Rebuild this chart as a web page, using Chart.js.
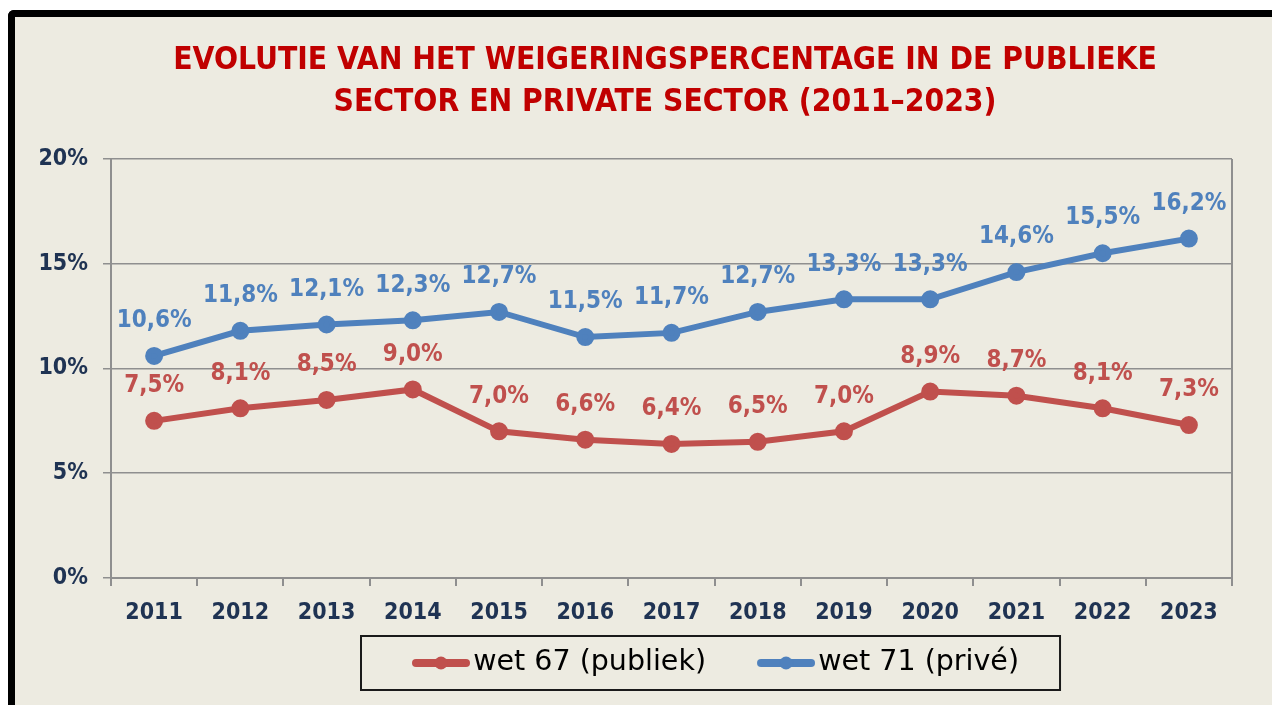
<!DOCTYPE html>
<html>
<head>
<meta charset="utf-8">
<script src="https://cdn.jsdelivr.net/npm/chart.js@4.4.1/dist/chart.umd.min.js"></script>
<style>
  html, body { margin: 0; padding: 0; background: #fff; overflow: hidden; }
  .frame {
    position: absolute; left: 8px; top: 10px; width: 1400px; height: 800px;
    background: #EDEBE1; border-left: 7px solid #000; border-top: 7px solid #000;
    border-top-left-radius: 6px;
  }
  #chart { position: absolute; left: 0; top: 0; }
</style>
</head>
<body>
<div class="frame"></div>
<canvas id="chart" width="1272" height="705"></canvas>
<script>
// data
const years = ['2011', '2012', '2013', '2014', '2015', '2016', '2017', '2018', '2019', '2020', '2021', '2022', '2023'];
const publiek = [7.5, 8.1, 8.5, 9.0, 7.0, 6.6, 6.4, 6.5, 7.0, 8.9, 8.7, 8.1, 7.3];
const prive = [10.6, 11.8, 12.1, 12.3, 12.7, 11.5, 11.7, 12.7, 13.3, 13.3, 14.6, 15.5, 16.2];
const seriesNames = ['wet 67 (publiek)', 'wet 71 (privé)'];
const titleLines = ['EVOLUTIE VAN HET WEIGERINGSPERCENTAGE IN DE PUBLIEKE', 'SECTOR EN PRIVATE SECTOR (2011–2023)'];
const yMin = 0, yMax = 20, yStep = 5;

const RED = '#C0504D';
const BLUE = '#4F81BD';
const TICK = '#1F3353';
const GRID = '#8F8F8F';
const COND = '"DejaVu Sans Condensed", "DejaVu Sans", sans-serif';

const fmt = v => v.toFixed(1).replace('.', ',') + '%';

// legend marker: line with a dot, drawn in the right part of the image
function makeMarker(color) {
    const c = document.createElement('canvas');
    c.width = 80; c.height = 24;
    const g = c.getContext('2d');
    g.strokeStyle = color; g.fillStyle = color;
    g.lineWidth = 8; g.lineCap = 'round';
    g.beginPath(); g.moveTo(26, 12); g.lineTo(76, 12); g.stroke();
    g.beginPath(); g.arc(51, 12, 6.5, 0, Math.PI * 2); g.fill();
    return c;
}
const markers = [makeMarker(RED), makeMarker(BLUE)];

const pointLabels = {
    id: 'pointLabels',
    afterDatasetsDraw(chart) {
        const ctx = chart.ctx;
        ctx.save();
        ctx.font = 'bold 24px ' + COND;
        ctx.textAlign = 'center';
        ctx.textBaseline = 'middle';
        chart.data.datasets.forEach((ds, i) => {
            ctx.fillStyle = ds.borderColor;
            chart.getDatasetMeta(i).data.forEach((pt, j) => {
                ctx.fillText(fmt(ds.data[j]), pt.x, pt.y - 35);
            });
        });
        ctx.restore();
    }
};

const plotFrame = {
    id: 'plotFrame',
    afterLayout(chart) {
        // title centred a bit right of the canvas middle, legend row placed as in the reference
        const t = chart.titleBlock;
        t.left += 49; t.right += 49;
        const lg = chart.legend;
        const dx = 401 - (lg.left + lg.options.labels.padding);
        lg.left += dx; lg.right += dx;
        lg.top -= 17.75; lg.bottom -= 17.75;
    },
    afterDraw(chart) {
        const {ctx, chartArea} = chart;
        ctx.save();
        ctx.strokeStyle = GRID;
        ctx.lineWidth = 2;
        ctx.beginPath();
        ctx.moveTo(chartArea.right, chartArea.top);
        ctx.lineTo(chartArea.right, chartArea.bottom);
        ctx.stroke();

        // box round the legend
        const lg = chart.legend;
        const p = lg.options.labels.padding;
        const x0 = lg.left + p;
        const textEnd = x0 + lg.lineWidths[0] - p;
        const cy = lg.top + p + lg.options.labels.font.size / 2;
        ctx.strokeStyle = '#1a1a1a';
        ctx.lineWidth = 2;
        ctx.strokeRect(x0 - 40, cy - 27, textEnd + 41 - (x0 - 40), 54);
        ctx.restore();
    }
};

new Chart(document.getElementById('chart'), {
    type: 'line',
    data: {
        labels: years,
        datasets: [
            { label: seriesNames[0], data: publiek, borderColor: RED, backgroundColor: RED,
              borderWidth: 6, pointRadius: 6, pointHoverRadius: 6, tension: 0 },
            { label: seriesNames[1], data: prive, borderColor: BLUE, backgroundColor: BLUE,
              borderWidth: 6, pointRadius: 6, pointHoverRadius: 6, tension: 0 }
        ]
    },
    options: {
        responsive: false,
        animation: false,
        events: [],
        layout: { padding: { left: 0, right: 40, top: 0, bottom: 0 } },
        scales: {
            x: {
                offset: true,
                afterFit(scale) { scale.height = 48.5; },
                grid: { offset: true, drawOnChartArea: false, drawTicks: true, tickLength: 8, color: GRID, lineWidth: 2 },
                border: { color: GRID, width: 2 },
                ticks: { color: TICK, padding: 13, font: { family: COND, size: 23, weight: 'bold' } }
            },
            y: {
                min: yMin, max: yMax,
                afterFit(scale) { scale.width = 111; },
                grid: { color: GRID, lineWidth: 1.5, tickLength: 8 },
                border: { color: GRID, width: 2 },
                ticks: { stepSize: yStep, color: TICK, padding: 15, callback: v => v + '%',
                         font: { family: COND, size: 23, weight: 'bold' } }
            }
        },
        plugins: {
            title: {
                display: true,
                text: titleLines,
                color: '#C00000',
                font: { family: COND, size: 31.5, weight: 'bold', lineHeight: 1.333 },
                padding: { top: 40, bottom: 35 }
            },
            legend: {
                position: 'bottom',
                align: 'start',
                labels: {
                    usePointStyle: true,
                    pointStyleWidth: 58,
                    padding: 40,
                    color: '#000',
                    font: { family: '"DejaVu Sans", sans-serif', size: 28.5 },
                    generateLabels(chart) {
                        const items = Chart.defaults.plugins.legend.labels.generateLabels(chart);
                        items.forEach((it, i) => { it.pointStyle = markers[i]; });
                        return items;
                    }
                }
            },
            tooltip: { enabled: false }
        }
    },
    plugins: [pointLabels, plotFrame]
});
</script>
</body>
</html>
